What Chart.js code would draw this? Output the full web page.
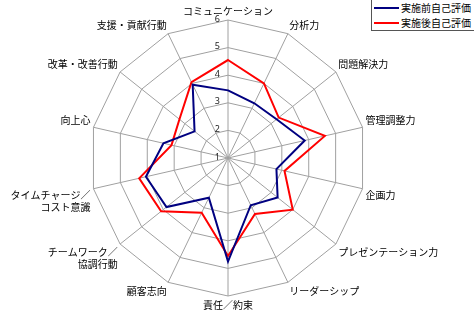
<!DOCTYPE html>
<html>
<head>
<meta charset="utf-8">
<script src="https://cdn.jsdelivr.net/npm/chart.js@4/dist/chart.umd.min.js"></script>
<style>
  html, body { margin: 0; padding: 0; background: #fff; }
  #wrap { position: relative; width: 474px; height: 315px; }
  #legend {
    position: absolute; left: 371px; top: -1px; width: 102px; height: 30px;
    border: 1px solid #555; background: #fff; white-space: nowrap; overflow: hidden;
    font: 10px "Noto Sans CJK JP", sans-serif; color: #000;
  }
  #legend div { height: 14px; line-height: 14px; display: flex; align-items: center; margin-top: 1px; }
  #legend span.ln { display: inline-block; width: 25px; height: 2px; margin: 0 2px 0 2px; flex: none; }
</style>
</head>
<body>
<div id="wrap">
  <canvas id="myChart" width="474" height="315"></canvas>
  <div id="legend">
    <div><span class="ln" style="background:#000080"></span>実施前自己評価</div>
    <div><span class="ln" style="background:#ff0000"></span>実施後自己評価</div>
  </div>
</div>
<script>
const categories = [
  'コミュニケーション', '分析力', '問題解決力', '管理調整力', '企画力',
  'プレゼンテーション力', 'リーダーシップ', '責任／約束', '顧客志向',
  ['チームワーク／', '協調行動'], ['タイムチャージ／', 'コスト意識'],
  '向上心', '改革・改善行動', '支援・貢献行動'
];
const before = [3.45, 3.2, 3.25, 3.85, 2.8, 3.3, 2.9, 4.75, 2.6, 3.85, 4.05, 3.4, 2.55, 3.95];
const after  = [4.55, 4.0, 3.35, 4.6, 3.1, 4.0, 3.25, 4.55, 3.2, 4.1, 4.3, 3.1, 3.25, 4.05];
const tickValues = [1, 2, 3, 4, 5, 6];

const tickPlugin = {
  id: 'tickLabels',
  afterDraw(chart) {
    const s = chart.scales.r;
    const ctx = chart.ctx;
    ctx.save();
    ctx.font = '9px "Noto Sans", sans-serif';
    ctx.fillStyle = '#222';
    ctx.textAlign = 'right';
    ctx.textBaseline = 'middle';
    tickValues.forEach(v => {
      const d = s.getDistanceFromCenterForValue(v);
      ctx.fillText(String(v), s.xCenter - 8, s.yCenter - d - 1);
    });
    ctx.restore();
  }
};

const ctx = document.getElementById('myChart').getContext('2d');
new Chart(ctx, {
  type: 'radar',
  data: {
    labels: categories,
    datasets: [{
      label: '実施前自己評価',
      data: before,
      borderColor: '#000080',
      borderWidth: 2,
      fill: false,
      pointRadius: 0
    }, {
      label: '実施後自己評価',
      data: after,
      borderColor: '#ff0000',
      borderWidth: 2,
      fill: false,
      pointRadius: 0
    }]
  },
  options: {
    responsive: false,
    animation: false,
    layout: { padding: { left: 2, right: 30, top: 5, bottom: 3 } },
    scales: {
      r: {
        min: 1,
        max: 6,
        ticks: { display: false, stepSize: 1 },
        grid: { color: '#a0a0a0', lineWidth: 1 },
        angleLines: { color: '#a0a0a0', lineWidth: 1 },
        pointLabels: {
          color: '#000',
          padding: 3,
          font: { family: '"Noto Sans CJK JP", sans-serif', size: 10 }
        }
      }
    },
    plugins: {
      legend: { display: false },
      tooltip: { enabled: false }
    }
  },
  plugins: [tickPlugin]
});
</script>
</body>
</html>
